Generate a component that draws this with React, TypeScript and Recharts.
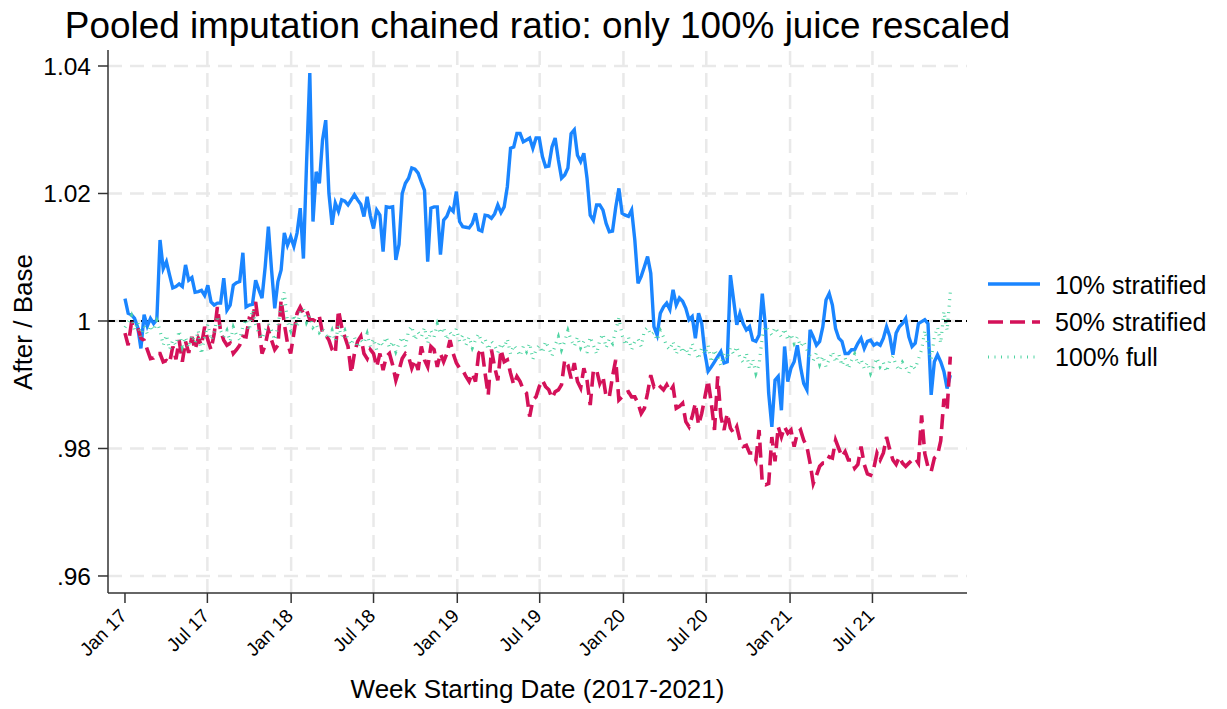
import { Line, LineChart, ReferenceLine, XAxis, YAxis } from "recharts";

const FONT = '"Liberation Sans", Arial, Helvetica, sans-serif';

// x axis: days since Jan 1 2017, one point per week
const xTickDays = [0, 181, 365, 546, 730, 911, 1095, 1277, 1461, 1642];
const xTickLabels = ["Jan 17", "Jul 17", "Jan 18", "Jul 18", "Jan 19", "Jul 19", "Jan 20", "Jul 20", "Jan 21", "Jul 21"];

const yTicks = [0.96, 0.98, 1, 1.02, 1.04];
const yTickLabels = [".96", ".98", "1", "1.02", "1.04"];

const seriesNames = ["10% stratified", "50% stratified", "100% full"];

// 10% stratified, weekly from Jan 2017
const stratified10 = [
  1.0035, 1.0012, 1.001, 1.0004, 0.999, 0.9957, 1.001, 0.9992, 1.0004, 0.9996,
  1.0002, 1.0127, 1.0082, 1.0093, 1.0072, 1.0052, 1.0054, 1.0058, 1.0054, 1.0088,
  1.0064, 1.0068, 1.0045, 1.0046, 1.0048, 1.004, 1.0056, 1.003, 1.0025, 1.0028,
  1.0028, 1.0067, 1.0017, 1.0025, 1.0056, 1.006, 1.0062, 1.0107, 1.0022, 1.0025,
  1.0026, 1.0064, 1.0049, 1.0036, 1.0085, 1.0148, 1.008, 1.002, 1.0062, 1.008,
  1.0138, 1.0119, 1.0132, 1.0117, 1.0138, 1.0177, 1.0098, 1.025, 1.0389, 1.0156,
  1.0234, 1.0216, 1.0284, 1.0315, 1.02, 1.0151, 1.0185, 1.0172, 1.019, 1.0188,
  1.0182, 1.019, 1.0198, 1.019, 1.0183, 1.0164, 1.0195, 1.0165, 1.0145, 1.0174,
  1.0166, 1.0109, 1.0179, 1.0178, 1.0179, 1.0096, 1.012, 1.02, 1.0216, 1.0224,
  1.024, 1.0238, 1.0232, 1.0218, 1.0205, 1.0093, 1.0177, 1.0179, 1.0179, 1.0104,
  1.0158, 1.0164, 1.0177, 1.0172, 1.0203, 1.0156, 1.0148, 1.0147, 1.0146, 1.0153,
  1.0169, 1.0143, 1.0141, 1.0166, 1.0165, 1.0161, 1.0168, 1.0182, 1.017, 1.0179,
  1.0211, 1.0271, 1.0273, 1.0294, 1.0294, 1.0281, 1.0284, 1.0287, 1.0271, 1.0287,
  1.0287, 1.0258, 1.0242, 1.0243, 1.0273, 1.0287, 1.0253, 1.0224, 1.0229, 1.024,
  1.0294, 1.03, 1.026, 1.025, 1.0263, 1.0224, 1.0166, 1.0158, 1.0182, 1.0182,
  1.0174, 1.0153, 1.014, 1.0141, 1.0178, 1.0208, 1.0169, 1.0166, 1.0164, 1.0174,
  1.0127, 1.0059, 1.007, 1.0085, 1.0101, 1.0075, 0.9991, 0.9978, 1.0012, 1.0022,
  1.0028, 1.0018, 1.0049, 1.0025, 1.0036, 1.0031, 1.002, 1.0002, 1.0007, 0.9973,
  1.0012, 0.9996, 0.9949, 0.9921, 0.9928, 0.9936, 0.9944, 0.9952, 0.9934, 0.9936,
  1.0072, 1.0033, 0.9994, 1.0012, 0.9996, 0.9986, 0.9991, 0.997, 0.9968, 0.9978,
  1.0043, 0.9991, 0.9887, 0.9834, 0.9907, 0.9913, 0.986, 0.996, 0.9905, 0.9926,
  0.9936, 0.9962, 0.9928, 0.9902, 0.9892, 0.9986, 0.9975, 0.9962, 0.9968, 0.9991,
  1.0033, 1.0043, 1.0025, 0.9988, 0.9973, 0.9968, 0.9949, 0.9949, 0.9955, 0.9955,
  0.9965, 0.9973, 0.9957, 0.9968, 0.997, 0.9962, 0.9965, 0.9962, 0.9973, 0.9991,
  0.9976, 0.9947, 0.9981, 0.9991, 0.9996, 1.0004, 0.9975, 0.996, 0.9965, 0.9996,
  0.9999, 1.0002, 0.9996, 0.9884, 0.9936, 0.9947, 0.9936, 0.9921, 0.9894, 0.9915,
];

// 50% stratified
const stratified50 = [
  0.9981, 0.9962, 0.9996, 0.9997, 0.999, 0.9973, 0.997, 0.9955, 0.9941, 0.9942,
  0.9949, 0.9949, 0.9936, 0.9938, 0.9934, 0.996, 0.994, 0.997, 0.9936, 0.9968,
  0.995, 0.9975, 0.9955, 0.9973, 0.9962, 0.9991, 0.997, 0.9955, 0.998, 1.0022,
  0.9984, 0.997, 0.9962, 0.9965, 0.9949, 0.9955, 0.9962, 0.9976, 0.9975, 1.0004,
  1.0002, 1.003, 0.9992, 0.9949, 0.9962, 0.9986, 0.997, 0.9955, 0.9962, 1.0033,
  0.9996, 0.9965, 0.9949, 0.9981, 1.0012, 1.0022, 1.0012, 1.0017, 1.0002, 1.0002,
  0.9999, 1.0007, 0.9981, 0.9978, 0.997, 0.9955, 0.9949, 1.0017, 0.9991, 0.9975,
  0.996, 0.9918, 0.9949, 0.9968, 0.9976, 0.9949, 0.9941, 0.9955, 0.9949, 0.9928,
  0.9949, 0.9923, 0.9944, 0.9949, 0.9931, 0.9907, 0.9923, 0.9941, 0.9949, 0.9944,
  0.9926, 0.9939, 0.9923, 0.996, 0.9939, 0.9928, 0.996, 0.9955, 0.9928, 0.9949,
  0.9936, 0.9949, 0.997, 0.9949, 0.9934, 0.9926, 0.9923, 0.9913, 0.9905, 0.9918,
  0.9905, 0.9949, 0.9957, 0.9918, 0.9884, 0.9955, 0.9928, 0.9907, 0.9955, 0.9936,
  0.9939, 0.9918, 0.99, 0.9913, 0.9905, 0.9892, 0.9887, 0.985, 0.9876, 0.9881,
  0.9897, 0.9907, 0.9897, 0.9892, 0.9879, 0.9889, 0.9892, 0.99, 0.9939, 0.9931,
  0.991, 0.9934, 0.9905, 0.9895, 0.9926, 0.9907, 0.9868, 0.9923, 0.9923, 0.9902,
  0.9913, 0.9881, 0.9881, 0.9913, 0.9939, 0.9876, 0.9881, 0.9887, 0.9889, 0.9881,
  0.9881, 0.9871, 0.9855, 0.9863, 0.9887, 0.9915, 0.9897, 0.9902, 0.9897, 0.9892,
  0.99, 0.9889, 0.9897, 0.9863, 0.9866, 0.9871, 0.9842, 0.9834, 0.985, 0.9871,
  0.9837, 0.9855, 0.9881, 0.9907, 0.9871, 0.9829, 0.9913, 0.985, 0.9829, 0.9855,
  0.9832, 0.9824, 0.9834, 0.9813, 0.9803, 0.9805, 0.9793, 0.9793, 0.9782, 0.9829,
  0.9745, 0.9743, 0.9745, 0.9818, 0.978, 0.9834, 0.9818, 0.9834, 0.9824, 0.9829,
  0.9803, 0.9824, 0.9829, 0.9813, 0.9803, 0.9777, 0.9745, 0.9758, 0.9772, 0.9777,
  0.9777, 0.9787, 0.9785, 0.9813, 0.98, 0.9787, 0.9795, 0.9782, 0.9782, 0.9769,
  0.9775, 0.9803, 0.9775, 0.976, 0.9758, 0.9769, 0.9793, 0.9782, 0.9793, 0.9818,
  0.9798, 0.9782, 0.9775, 0.9787, 0.9777, 0.9772, 0.9777, 0.9782, 0.9785, 0.9777,
  0.9852, 0.9792, 0.9771, 0.9764, 0.9785, 0.979, 0.9812, 0.9878, 0.986, 0.9944,
];

// 100% full
const full100 = [
  0.999, 0.9998, 1.0008, 0.9985, 0.9999, 0.9975, 0.9992, 0.998, 0.9993, 0.9985,
  1.0, 0.9985, 0.9962, 0.9978, 0.9955, 0.997, 0.9962, 0.9985, 0.996, 0.9975,
  0.9958, 0.9978, 0.9965, 0.9985, 0.9948, 0.9975, 0.9995, 0.997, 0.9982, 1.0008,
  0.9985, 0.9975, 0.9985, 0.9968, 0.999, 0.9978, 0.997, 0.9992, 1.0003, 0.9985,
  1.0018, 0.9995, 0.998, 0.9972, 0.9985, 0.9995, 0.9985, 0.997, 0.9992, 1.0025,
  1.0045, 0.9998, 0.9985, 1.001, 0.999, 1.0015, 1.002, 0.9998, 1.0008, 0.999,
  0.9995, 0.9982, 0.9988, 0.9978, 0.9972, 0.9985, 0.9968, 0.9992, 0.9975, 0.9985,
  0.997, 0.9962, 0.9975, 0.9958, 0.997, 0.9965, 0.998, 0.996, 0.9972, 0.9955,
  0.9968, 0.9962, 0.9975, 0.9958, 0.9968, 0.9952, 0.9965, 0.9975, 0.996, 0.9985,
  0.9992, 0.997, 0.9982, 0.9975, 0.999, 0.9965, 0.9985, 0.9975, 0.9995, 0.998,
  0.999, 0.997, 0.9982, 0.9975, 0.9988, 0.9968, 0.9978, 0.9962, 0.9975, 0.9958,
  0.997, 0.998, 0.9965, 0.9972, 0.9955, 0.9968, 0.9962, 0.995, 0.9965, 0.9958,
  0.9972, 0.9948, 0.9962, 0.9955, 0.9945, 0.996, 0.9952, 0.9965, 0.994, 0.9955,
  0.9962, 0.995, 0.9968, 0.9958, 0.9945, 0.9962, 0.9975, 0.9955, 0.9968, 0.9985,
  0.997, 0.996, 0.9975, 0.9958, 0.9968, 0.995, 0.9975, 0.9962, 0.9948, 0.997,
  0.998, 0.9958, 0.9972, 0.9965, 0.9985, 1.0005, 0.9978, 0.9962, 0.9975, 0.9955,
  0.9968, 0.9972, 0.996, 0.9985, 0.999, 0.9978, 0.9982, 0.997, 0.9985, 0.9975,
  0.996, 0.9955, 0.9968, 0.9948, 0.9962, 0.995, 0.9958, 0.9945, 0.9965, 0.9952,
  0.994, 0.9958, 0.9948, 0.9962, 0.9935, 0.9955, 0.9945, 0.993, 0.995, 0.994,
  0.9958, 0.9948, 0.996, 0.9942, 0.9935, 0.995, 0.9925, 0.994, 0.9918, 0.9932,
  0.9975, 0.9992, 0.9985, 0.9978, 0.999, 0.9982, 0.9975, 0.9988, 0.997, 0.998,
  0.9965, 0.9975, 0.996, 0.9968, 0.9955, 0.9945, 0.9938, 0.995, 0.9932, 0.9945,
  0.9928, 0.994, 0.9952, 0.9935, 0.9948, 0.993, 0.9942, 0.9925, 0.9938, 0.9948,
  0.9932, 0.994, 0.9925, 0.9935, 0.9918, 0.993, 0.9942, 0.9928, 0.9935, 0.992,
  0.9938, 0.9945, 0.993, 0.9922, 0.9935, 0.9928, 0.9918, 0.9932, 0.9925, 0.994,
  0.9955, 0.9985, 0.9962, 0.994, 0.9975, 0.999, 0.9965, 1.0015, 0.9985, 1.0045,
];

const data = stratified10.map((v, i) => ({
  day: i * 7,
  s10: v,
  s50: stratified50[i],
  f100: full100[i],
}));

const BLUE = "#1a85ff";
const PINK = "#d41159";
const GREEN = "#4fd4a2";
const GRID = "#e9e9e9";

function XTick({ x, y, payload }: any) {
  const i = xTickDays.indexOf(payload.value);
  const ax = x + 3;
  const ay = y + 12;
  return (
    <text
      x={ax}
      y={ay}
      transform={`rotate(-45, ${ax}, ${ay})`}
      textAnchor="end"
      fontSize={19}
      fontFamily={FONT}
      fill="#000"
    >
      {xTickLabels[i]}
    </text>
  );
}

export default function App() {
  return (
    <div style={{ position: "absolute", left: 0, top: 0, width: 1227, height: 709, background: "#fff" }}>
      <LineChart width={1227} height={709} data={data} margin={{ top: 50, right: 260, bottom: 0, left: 0 }}>
        {/* grid: horizontal at every y tick, vertical at x ticks after Jan 17 */}
        {yTicks.map((v) => (
          <ReferenceLine key={`gy${v}`} y={v} stroke={GRID} strokeWidth={2.5} strokeDasharray="14 8" />
        ))}
        {xTickDays.slice(1).map((d) => (
          <ReferenceLine key={`gx${d}`} x={d} stroke={GRID} strokeWidth={2.5} strokeDasharray="14 8" />
        ))}
        <XAxis
          dataKey="day"
          type="number"
          domain={[-37.3, 1849.7]}
          ticks={xTickDays}
          interval={0}
          allowDataOverflow
          height={116}
          tickSize={10}
          stroke="#333"
          strokeWidth={1.5}
          tick={<XTick />}
        />
        <YAxis
          type="number"
          domain={[0.95733, 1.04251]}
          ticks={yTicks}
          interval={0}
          allowDataOverflow
          width={108}
          tickSize={10}
          tickMargin={7}
          stroke="#333"
          strokeWidth={1.5}
          tick={{ fontSize: 24.5, fill: "#000", fontFamily: FONT }}
          tickFormatter={(v: number) => yTickLabels[yTicks.indexOf(v)]}
        />
        <ReferenceLine y={1} stroke="#000" strokeWidth={2} strokeDasharray="7 4" />
        <Line
          dataKey="s10"
          name={seriesNames[0]}
          type="linear"
          stroke={BLUE}
          strokeWidth={3.4}
          dot={false}
          isAnimationActive={false}
        />
        <Line
          dataKey="s50"
          name={seriesNames[1]}
          type="linear"
          stroke={PINK}
          strokeWidth={3.6}
          strokeDasharray="15 7"
          dot={false}
          isAnimationActive={false}
        />
        <Line
          dataKey="f100"
          name={seriesNames[2]}
          type="linear"
          stroke={GREEN}
          strokeWidth={3.2}
          strokeDasharray="1 5.5"
          dot={false}
          isAnimationActive={false}
        />
      </LineChart>
      <svg
        width={1227}
        height={709}
        style={{ position: "absolute", left: 0, top: 0, pointerEvents: "none" }}
        fontFamily={FONT}
      >
        <text x={537.5} y={38} textAnchor="middle" fontSize={36.9} fill="#000">
          Pooled imputation chained ratio: only 100% juice rescaled
        </text>
        <text transform="translate(31.5, 322) rotate(-90)" textAnchor="middle" fontSize={26} fill="#000">
          After / Base
        </text>
        <text x={537.5} y={698} textAnchor="middle" fontSize={26} fill="#000">
          Week Starting Date (2017-2021)
        </text>
        <line x1={988} x2={1040} y1={284} y2={284} stroke={BLUE} strokeWidth={3.4} />
        <line x1={988} x2={1040} y1={322} y2={322} stroke={PINK} strokeWidth={3.6} strokeDasharray="15 7" />
        <line x1={988} x2={1040} y1={357} y2={357} stroke={GREEN} strokeWidth={3.2} strokeDasharray="1 5.5" />
        <text x={1055} y={294} fontSize={25} fill="#000">{seriesNames[0]}</text>
        <text x={1055} y={331} fontSize={25} fill="#000">{seriesNames[1]}</text>
        <text x={1055} y={366} fontSize={25} fill="#000">{seriesNames[2]}</text>
      </svg>
    </div>
  );
}
